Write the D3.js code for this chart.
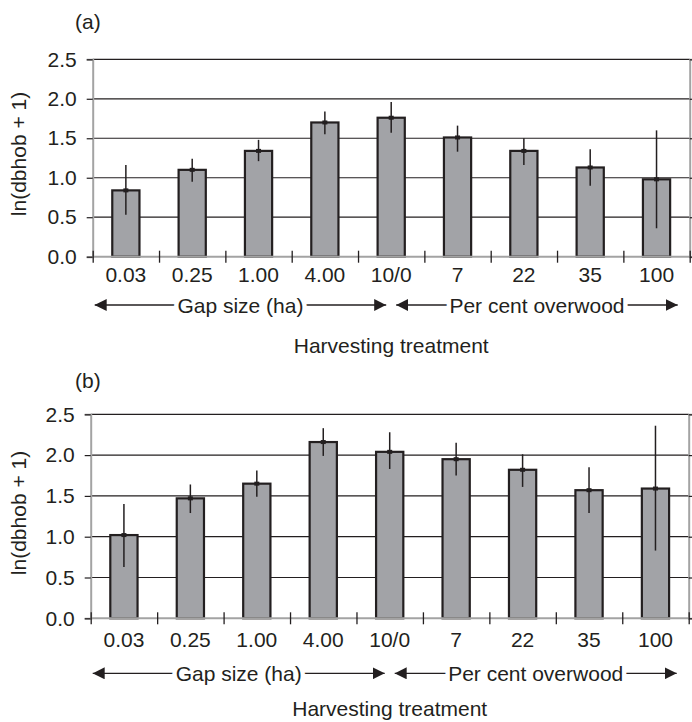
<!DOCTYPE html>
<html>
<head>
<meta charset="utf-8">
<script src="https://cdn.jsdelivr.net/npm/d3@7"></script>
<style>
  body { margin: 0; background: #fff; }
  svg { display: block; }
  text { font-family: "Liberation Sans", Arial, sans-serif; fill: #231f20; }
</style>
</head>
<body>
<div id="chart"></div>
<script>
// data
const categories = ["0.03", "0.25", "1.00", "4.00", "10/0", "7", "22", "35", "100"];
const meanA  = [0.84, 1.10, 1.34, 1.70, 1.76, 1.51, 1.34, 1.13, 0.98];
const upperA = [1.16, 1.24, 1.48, 1.84, 1.96, 1.66, 1.50, 1.36, 1.60];
const lowerA = [0.53, 0.95, 1.21, 1.55, 1.57, 1.33, 1.16, 0.90, 0.36];
const meanB  = [1.02, 1.47, 1.65, 2.16, 2.04, 1.95, 1.82, 1.57, 1.59];
const upperB = [1.40, 1.64, 1.81, 2.33, 2.28, 2.15, 2.01, 1.85, 2.36];
const lowerB = [0.63, 1.29, 1.49, 1.99, 1.83, 1.75, 1.61, 1.29, 0.83];
const yTicks = [0, 0.5, 1.0, 1.5, 2.0, 2.5];
const yTitle = "ln(dbhob + 1)";
const xTitle = "Harvesting treatment";
const gapLabel = "Gap size (ha)";
const overLabel = "Per cent overwood";

const W = 692, H = 722;
const ink = "#231f20";
const axisGray = "#a3a3a3";
const fontSize = 21;

var svg = d3.select("#chart").append("svg")
  .attr("width", W)
  .attr("height", H);

var defs = svg.append("defs");
defs.append("marker")
  .attr("id", "arrowhead")
  .attr("viewBox", "0 -6 12 12")
  .attr("refX", 12).attr("refY", 0)
  .attr("markerUnits", "userSpaceOnUse")
  .attr("markerWidth", 12).attr("markerHeight", 12)
  .attr("orient", "auto-start-reverse")
  .append("path")
    .attr("d", "M0,-6 L12,0 L0,6 Z")
    .attr("fill", ink);

var panels = [
  {tag: "(a)", mean: meanA, upper: upperA, lower: lowerA,
   left: 92.7, right: 689.7, top: 59.3, bottom: 256.7,
   tickPad: 10, arrowDy: 48.3, titleDy: 96.3, tagY: 29, yTitleY: 154},
  {tag: "(b)", mean: meanB, upper: upperB, lower: lowerB,
   left: 90.7, right: 688.7, top: 414.3, bottom: 618.3,
   tickPad: 13.5, arrowDy: 55, titleDy: 98, tagY: 387.5, yTitleY: 513}
];

panels.forEach(function(p) { drawPanel(p); });

function drawPanel(p) {
  var g = svg.append("g");

  var x = d3.scaleBand()
    .domain(categories)
    .range([p.left, p.right])
    .padding(0);
  var xEdge = d3.scaleLinear()
    .domain([0, categories.length])
    .range([p.left, p.right]);
  var y = d3.scaleLinear()
    .domain([0, 2.5])
    .range([p.bottom, p.top]);

  // gridlines
  g.append("g").selectAll("line")
    .data(yTicks.filter(function(d) { return d > 0; }))
    .enter().append("line")
      .attr("x1", p.left).attr("x2", p.right)
      .attr("y1", function(d) { return y(d); })
      .attr("y2", function(d) { return y(d); })
      .attr("stroke", ink)
      .attr("stroke-width", 1.2);

  // bars
  var barW = x.bandwidth() * 0.41;
  var idx = d3.range(categories.length);
  g.append("g").selectAll("rect")
    .data(idx)
    .enter().append("rect")
      .attr("x", function(i) { return x(categories[i]) + x.bandwidth() / 2 - barW / 2; })
      .attr("y", function(i) { return y(p.mean[i]); })
      .attr("width", barW)
      .attr("height", function(i) { return y(0) - y(p.mean[i]); })
      .attr("fill", "#a2a3a7")
      .attr("stroke", ink)
      .attr("stroke-width", 2.2);

  // error bars
  var err = g.append("g");
  err.selectAll("line")
    .data(idx)
    .enter().append("line")
      .attr("x1", function(i) { return x(categories[i]) + x.bandwidth() / 2; })
      .attr("x2", function(i) { return x(categories[i]) + x.bandwidth() / 2; })
      .attr("y1", function(i) { return y(p.upper[i]); })
      .attr("y2", function(i) { return y(p.lower[i]); })
      .attr("stroke", ink)
      .attr("stroke-width", 1.5);
  err.selectAll("rect")
    .data(idx)
    .enter().append("rect")
      .attr("x", function(i) { return x(categories[i]) + x.bandwidth() / 2 - 2.5; })
      .attr("y", function(i) { return y(p.mean[i]) - 2; })
      .attr("width", 5)
      .attr("height", 4)
      .attr("fill", ink);

  // left axis
  var yAxis = g.append("g")
    .attr("transform", "translate(" + p.left + ",0)")
    .call(d3.axisLeft(y).tickValues(yTicks).tickSize(6).tickPadding(10)
      .tickFormat(d3.format(".1f")));
  yAxis.select(".domain").attr("stroke", axisGray).attr("stroke-width", 2);
  yAxis.selectAll(".tick line").attr("stroke", ink).attr("stroke-width", 1.2);
  yAxis.selectAll("text").style("font-size", fontSize + "px").attr("fill", ink);

  // right axis
  var rAxis = g.append("g")
    .attr("transform", "translate(" + p.right + ",0)")
    .call(d3.axisRight(y).tickValues(yTicks).tickSize(4).tickFormat(""));
  rAxis.select(".domain").attr("stroke", axisGray).attr("stroke-width", 2);
  rAxis.selectAll(".tick line").attr("stroke", ink).attr("stroke-width", 1.2);

  // bottom axis line with crossing ticks
  g.append("line")
    .attr("x1", p.left).attr("x2", p.right)
    .attr("y1", y(0)).attr("y2", y(0))
    .attr("stroke", axisGray).attr("stroke-width", 2);
  var edgeAxis = g.append("g")
    .attr("transform", "translate(0," + (y(0) - 6) + ")")
    .call(d3.axisBottom(xEdge).tickValues(d3.range(categories.length + 1))
      .tickSize(12).tickFormat(""));
  edgeAxis.select(".domain").remove();
  edgeAxis.selectAll(".tick line").attr("stroke", ink).attr("stroke-width", 1.3);

  var xAxis = g.append("g")
    .attr("transform", "translate(0," + y(0) + ")")
    .call(d3.axisBottom(x).tickSize(0).tickPadding(p.tickPad));
  xAxis.select(".domain").remove();
  xAxis.selectAll("text").style("font-size", fontSize + "px").attr("fill", ink);

  // group arrows
  var mid = xEdge(categories.length / 2);
  var ay = y(0) + p.arrowDy;
  var groups = [
    {label: gapLabel, x1: xEdge(0) + 2, x2: mid - 5},
    {label: overLabel, x1: mid + 5, x2: xEdge(categories.length) - 12}
  ];
  groups.forEach(function(d) {
    g.append("line")
      .attr("x1", d.x1).attr("x2", d.x2)
      .attr("y1", ay).attr("y2", ay)
      .attr("stroke", ink)
      .attr("stroke-width", 1.3)
      .attr("marker-start", "url(#arrowhead)")
      .attr("marker-end", "url(#arrowhead)");
    g.append("text")
      .attr("x", (d.x1 + d.x2) / 2)
      .attr("y", ay)
      .attr("dy", "0.36em")
      .attr("text-anchor", "middle")
      .style("font-size", fontSize + "px")
      .style("stroke", "#fff")
      .style("stroke-width", 9)
      .style("paint-order", "stroke")
      .text(d.label);
  });

  // x title
  g.append("text")
    .attr("x", (p.left + p.right) / 2)
    .attr("y", y(0) + p.titleDy)
    .attr("text-anchor", "middle")
    .style("font-size", fontSize + "px")
    .text(xTitle);

  // y title
  g.append("text")
    .attr("transform", "translate(26," + p.yTitleY + ") rotate(-90)")
    .attr("text-anchor", "middle")
    .style("font-size", fontSize + "px")
    .text(yTitle);

  // panel tag
  g.append("text")
    .attr("x", 75)
    .attr("y", p.tagY)
    .style("font-size", fontSize + "px")
    .text(p.tag);
}
</script>
</body>
</html>
